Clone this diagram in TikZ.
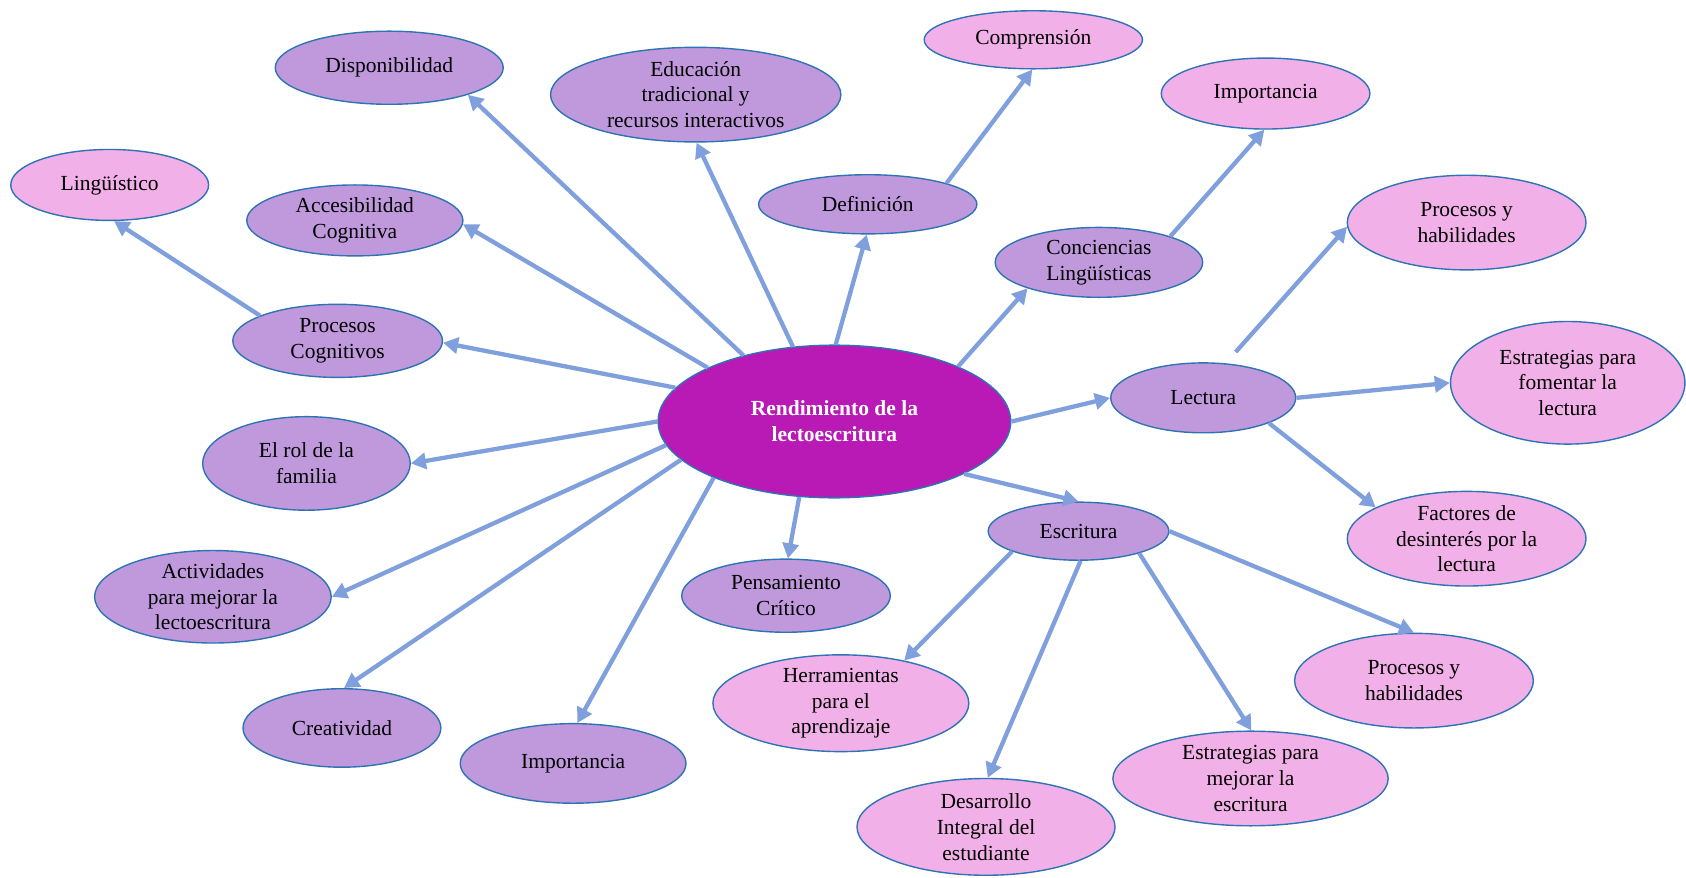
\documentclass[tikz,border=0pt]{standalone}
\usepackage{fontspec}
\setmainfont{Liberation Serif}
\usetikzlibrary{shapes.geometric,arrows.meta}
\definecolor{purc}{RGB}{192,153,221}
\definecolor{pinkc}{RGB}{242,176,232}
\definecolor{bordc}{RGB}{46,116,181}
\definecolor{arrc}{RGB}{127,160,220}
\definecolor{magc}{RGB}{185,26,181}
\newcommand{\fsz}{\fontsize{20}{24}\selectfont}
\tikzset{
  base/.style={ellipse, draw=bordc, line width=1.3pt, inner sep=0pt},
  pur/.style={base, fill=purc},
  pnk/.style={base, fill=pinkc},
  txt/.style={font=\fsz, align=center, text=black},
  conn/.style={draw=arrc, line width=4pt, -{Triangle[length=14pt,width=15pt]}}
}
\begin{document}
\begin{tikzpicture}[x=1pt,y=-1pt]
\useasboundingbox[fill=white] (0,0) rectangle (1568,816);
% center
\node[base, fill=magc, minimum width=328, minimum height=142,
  label={[txt, text=white, font=\fsz\bfseries]center:{Rendimiento de la\\lectoescritura}}] (c) at (776,392) {};
% purple nodes
\node[pur, minimum width=212, minimum height=68, label={[txt]center:Disponibilidad}] (disp) at (362,63) {};
\node[pur, minimum width=270, minimum height=88, label={[txt]center:{Educación\\tradicional y\\recursos interactivos}}] (educ) at (647,88) {};
\node[pur, minimum width=203, minimum height=55, label={[txt]center:Definición}] (def) at (807,190) {};
\node[pur, minimum width=201, minimum height=66, label={[txt]center:{Accesibilidad\\Cognitiva}}] (acc) at (330,205) {};
\node[pur, minimum width=193, minimum height=65, label={[txt]center:{Conciencias\\Lingüísticas}}] (conc) at (1022,244) {};
\node[pur, minimum width=195, minimum height=68, label={[txt]center:{Procesos\\Cognitivos}}] (pc) at (314,317) {};
\node[pur, minimum width=172, minimum height=65, label={[txt]center:Lectura}] (lect) at (1119,370) {};
\node[pur, minimum width=193, minimum height=87, label={[txt]center:{El rol de la\\familia}}] (rol) at (285,431) {};
\node[pur, minimum width=168, minimum height=54, label={[txt]center:Escritura}] (esc) at (1003,494) {};
\node[pur, minimum width=220, minimum height=86, label={[txt]center:{Actividades\\para mejorar la\\lectoescritura}}] (act) at (198,555) {};
\node[pur, minimum width=194, minimum height=68, label={[txt]center:{Pensamiento\\Crítico}}] (pens) at (731,554) {};
\node[pur, minimum width=184, minimum height=73, label={[txt]center:Creatividad}] (creat) at (318,677) {};
\node[pur, minimum width=210, minimum height=74, label={[txt]center:Importancia}] (imp2) at (533,710) {};
% pink nodes
\node[pnk, minimum width=203, minimum height=54, label={[txt]center:Comprensión}] (comp) at (961,37) {};
\node[pnk, minimum width=194, minimum height=66, label={[txt]center:Importancia}] (imp1) at (1177,87) {};
\node[pnk, minimum width=184, minimum height=66, label={[txt]center:Lingüístico}] (ling) at (102,172) {};
\node[pnk, minimum width=222, minimum height=88, label={[txt]center:{Procesos y\\habilidades}}] (ph1) at (1364,207) {};
\node[pnk, minimum width=218, minimum height=114, label={[txt]center:{Estrategias para\\fomentar la\\lectura}}] (est1) at (1458,356) {};
\node[pnk, minimum width=222, minimum height=88, label={[txt]center:{Factores de\\desinterés por la\\lectura}}] (fact) at (1364,501) {};
\node[pnk, minimum width=238, minimum height=90, label={[txt]center:{Herramientas\\para el\\aprendizaje}}] (herr) at (782,654) {};
\node[pnk, minimum width=222, minimum height=88, label={[txt]center:{Procesos y\\habilidades}}] (ph2) at (1315,633) {};
\node[pnk, minimum width=256, minimum height=88, label={[txt]center:{Estrategias para\\mejorar la\\escritura}}] (est2) at (1163,724) {};
\node[pnk, minimum width=240, minimum height=90, label={[txt]center:{Desarrollo\\Integral del\\estudiante}}] (des) at (917,769) {};
% connectors
\draw[conn] (c.144) -- (disp.-19);
\draw[conn] (c.119) -- (educ.-89);
\draw[conn] (c.89) -- (def.-92);
\draw[conn] (def.15) -- (comp.-92);
\draw[conn] (c.24) -- (conc.200);
\draw[conn] (conc.20) -- (imp1.-92);
\draw[conn] (c.157) -- (acc.-2);
\draw[conn] (pc.162) -- (ling.-83);
\draw[conn] (c.168) -- (pc.-1);
\draw[conn] (c.180) -- (rol.0);
\draw[conn] (c.188) -- (act.0);
\draw[conn] (c.194) -- (creat.87);
\draw[conn] (c.205) -- (imp2.84);
\draw[conn] (c.245) -- (pens.87);
\draw[conn] (c.-22) -- (esc.90);
\draw[conn] (c.0) -- (lect.180);
\draw[conn, shorten <=14pt] (lect.57) -- (ph1.182);
\draw[conn] (lect.0) -- (est1.180);
\draw[conn] (lect.-21) -- (fact.161);
\draw[conn] (esc.197) -- (herr.34);
\draw[conn] (esc.-86) -- (des.88);
\draw[conn] (esc.-20) -- (est2.89);
\draw[conn] (esc.0) -- (ph2.90);
\end{tikzpicture}
\end{document}
